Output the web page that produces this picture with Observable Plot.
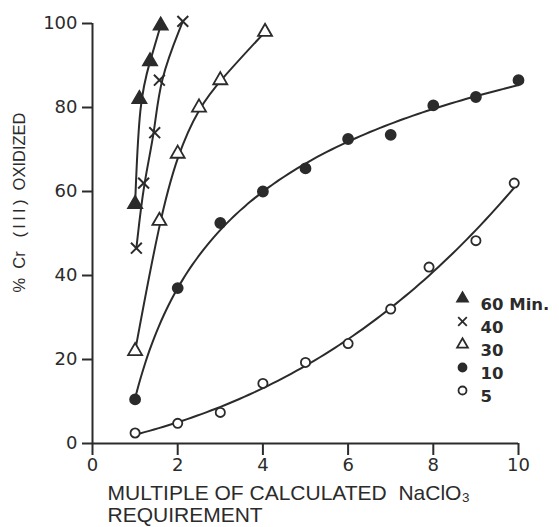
<!DOCTYPE html>
<html><head><meta charset="utf-8">
<script src="https://cdn.jsdelivr.net/npm/d3@7"></script>
<script src="https://cdn.jsdelivr.net/npm/@observablehq/plot@0.6"></script>
<style>
body{margin:0;background:#fff;}
#chart svg{display:block;}
</style>
</head><body><div id="chart"></div>
<script>
// Data
const legendLabels = ["60 Min.", "40", "30", "10", "5"];
const x60 = [1.0, 1.1, 1.35, 1.6];
const y60 = [57, 82, 91, 99.5];
const x40 = [1.03, 1.2, 1.46, 1.57, 2.12];
const y40 = [46.5, 62, 74, 86.5, 100.5];
const x30 = [1.0, 1.57, 2.0, 2.5, 3.0, 4.05];
const y30 = [22, 53, 69, 80, 86.5, 98];
const x10 = [1, 2, 3, 4, 5, 6, 7, 8, 9, 10];
const y10 = [10.5, 37, 52.5, 60, 65.5, 72.5, 73.5, 80.5, 82.5, 86.5];
const x5 = [1, 2, 3, 4, 5, 6, 7, 7.9, 9, 9.9];
const y5 = [2.5, 4.8, 7.4, 14.3, 19.3, 23.8, 32, 42, 48.3, 62];
const xTicks = [0, 2, 4, 6, 8, 10];
const yTicks = [0, 20, 40, 60, 80, 100];
const xLabel = "MULTIPLE OF CALCULATED\u00a0\u00a0NaClO\u2083\nREQUIREMENT";
const yLabel = "%\u00a0\u00a0Cr\u00a0\u00a0\u00a0(\u2009I\u2009I\u2009I\u2009)\u00a0\u00a0OXIDIZED";

const ink = "#2b2b2b";
const toRows = (xs, ys) => xs.map((x, i) => ({x, y: ys[i]}));

// least-squares polynomial smoothing (trend curve through the measured points)
function polyFit(xs, ys, deg, f) {
  const n = deg + 1;
  const A = Array.from({length: n}, () => new Array(n + 1).fill(0));
  xs.forEach((x, k) => {
    const t = f(x);
    const p = Array.from({length: n}, (_, i) => t ** i);
    for (let i = 0; i < n; i++) {
      for (let j = 0; j < n; j++) A[i][j] += p[i] * p[j];
      A[i][n] += p[i] * ys[k];
    }
  });
  for (let i = 0; i < n; i++) {
    let m = i;
    for (let r = i + 1; r < n; r++) if (Math.abs(A[r][i]) > Math.abs(A[m][i])) m = r;
    [A[i], A[m]] = [A[m], A[i]];
    for (let r = 0; r < n; r++) if (r !== i) {
      const c = A[r][i] / A[i][i];
      for (let j = i; j <= n; j++) A[r][j] -= c * A[i][j];
    }
  }
  const coef = A.map((row, i) => row[n] / row[i]);
  const lo = d3.min(xs), hi = d3.max(xs);
  return d3.range(0, 81).map(k => {
    const x = lo + (hi - lo) * k / 80;
    const t = f(x);
    return {x, y: coef.reduce((s, c, i) => s + c * t ** i, 0)};
  });
}

const series = [
  {data: toRows(x60, y60), symbol: "triangle", fill: ink, r: 5.2},
  {data: toRows(x40, y40), symbol: "times", fill: "none", r: 5},
  {data: toRows(x30, y30), symbol: "triangle", fill: "white", r: 5.2},
  {data: toRows(x10, y10), symbol: "circle", fill: ink, r: 5},
  {data: toRows(x5, y5), symbol: "circle", fill: "white", r: 4.6}
];
series[0].curve = series[0].data;
series[1].curve = series[1].data;
series[2].curve = series[2].data;
series[3].curve = polyFit(x10, y10, 2, Math.log);
series[4].curve = polyFit(x5, y5, 3, x => x);

const marks = [];
marks.push(Plot.ruleY([0], {x1: 0, x2: 10, stroke: ink, strokeWidth: 2}));
marks.push(Plot.ruleX([0], {y1: 0, y2: 100, stroke: ink, strokeWidth: 2}));
marks.push(Plot.axisY(yTicks, {tickSize: 10, tickPadding: 5, fontSize: 18, fontFamily: "'DejaVu Sans', sans-serif", stroke: ink, strokeWidth: 2, fill: ink, label: null}));
marks.push(Plot.axisX(xTicks, {tickSize: 12, tickPadding: 3, fontSize: 18, fontFamily: "'DejaVu Sans', sans-serif", stroke: ink, strokeWidth: 2, fill: ink, label: null}));

for (const s of series) {
  marks.push(Plot.line(s.curve, {x: "x", y: "y", curve: "basis", stroke: ink, strokeWidth: 2}));
}
for (const s of series) {
  marks.push(Plot.dot(s.data, {x: "x", y: "y", symbol: () => s.symbol, r: s.r, fill: s.fill, stroke: ink, strokeWidth: s.symbol === "times" ? 2 : 1.8}));
}

legendLabels.forEach((lab, i) => {
  const s = series[i];
  marks.push(Plot.dot([lab], {frameAnchor: "top-left", dx: 370, dy: 275 + i * 23, symbol: () => s.symbol, r: 4, fill: s.fill, stroke: ink, strokeWidth: 1.8}));
  marks.push(Plot.text([lab], {frameAnchor: "top-left", dx: 388, dy: 275 + i * 23, text: d => d, textAnchor: "start", fontSize: 16.5, fontWeight: "bold", fontFamily: "'DejaVu Sans', sans-serif", fill: ink}));
});

marks.push(Plot.text([xLabel], {frameAnchor: "bottom-left", dx: 15, dy: 41, text: d => d, textAnchor: "start", lineAnchor: "top", fontSize: 21, lineHeight: 1.05, fill: ink}));
marks.push(Plot.text([yLabel], {frameAnchor: "left", dx: -73, dy: -31, text: d => d, rotate: -90, textAnchor: "middle", fontSize: 16.5, fill: ink}));

const chart = Plot.plot({
  width: 559,
  height: 527,
  marginLeft: 92,
  marginRight: 41,
  marginTop: 23,
  marginBottom: 84,
  style: {fontFamily: "'Liberation Sans', Arial, sans-serif", background: "#fff", color: ink},
  x: {domain: [0, 10]},
  y: {domain: [0, 100]},
  marks
});
document.getElementById("chart").appendChild(chart);
</script>
</body></html>
